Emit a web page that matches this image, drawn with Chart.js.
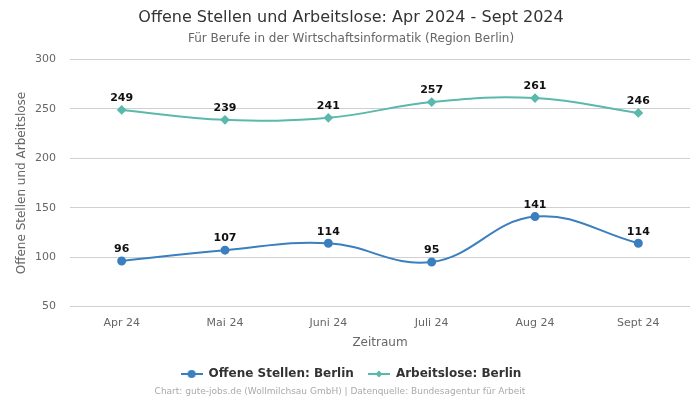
<!DOCTYPE html>
<html><head><meta charset="utf-8">
<script src="https://cdn.jsdelivr.net/npm/chart.js@4"></script>
<style>html,body{margin:0;padding:0;background:#fff;}#wrap{width:700px;height:400px;}</style>
</head><body><div id="wrap"><canvas id="c" width="700" height="400"></canvas></div>
<script>
const categories = ["Apr 24","Mai 24","Juni 24","Juli 24","Aug 24","Sept 24"];
const offeneStellen = [96,107,114,95,141,114];
const arbeitslose = [249,239,241,257,261,246];
const yTicks = [50,100,150,200,250,300];
const FONT = "'DejaVu Sans', sans-serif";
const blue = "#3b7fbf", teal = "#5bb8ad";

function legendIcon(color, style){
  const c = document.createElement('canvas'); c.width=22; c.height=10;
  const x = c.getContext('2d');
  x.strokeStyle=color; x.lineWidth=2; x.beginPath(); x.moveTo(0,5); x.lineTo(22,5); x.stroke();
  x.fillStyle=color; x.beginPath();
  if(style==='circle'){ x.arc(11,5,4,0,Math.PI*2);} else { x.moveTo(11,1.5);x.lineTo(14.5,5);x.lineTo(11,8.5);x.lineTo(7.5,5);x.closePath(); }
  x.fill(); return c;
}

const labelsPlugin = {
  id:'vlabels',
  afterDatasetsDraw(chart){
    const ctx=chart.ctx; ctx.save();
    ctx.font="bold 11px "+FONT; ctx.fillStyle="#111"; ctx.textAlign="center"; ctx.textBaseline="bottom";
    chart.data.datasets.forEach((ds,i)=>{
      chart.getDatasetMeta(i).data.forEach((pt,j)=>{ ctx.fillText(String(ds.data[j]), pt.x, pt.y-6); });
    });
    ctx.restore();
  }
};
const footerPlugin = {
  id:'footer',
  afterDraw(chart){
    const ctx=chart.ctx; ctx.save();
    ctx.font="9px "+FONT; ctx.fillStyle="#aaa"; ctx.textAlign="center"; ctx.textBaseline="middle";
    ctx.fillText("Chart: gute-jobs.de (Wollmilchsau GmbH) | Datenquelle: Bundesagentur für Arbeit", 340, 392);
    ctx.restore();
  }
};

new Chart(document.getElementById('c'),{
  type:'line',
  data:{labels:categories,datasets:[
    {label:"Offene Stellen: Berlin",data:offeneStellen,borderColor:blue,backgroundColor:blue,pointStyle:'circle',pointRadius:3.5,pointHoverRadius:3.5,borderWidth:2,tension:0.4},
    {label:"Arbeitslose: Berlin",data:arbeitslose,borderColor:teal,backgroundColor:teal,pointStyle:'rectRot',pointRadius:3.5,borderWidth:2,tension:0.4}
  ]},
  options:{
    responsive:false,animation:false,
    layout:{padding:{left:12,right:10,bottom:10}},
    plugins:{
      title:{display:true,text:"Offene Stellen und Arbeitslose: Apr 2024 - Sept 2024",color:"#333",font:{family:FONT,size:16,weight:'normal'},padding:{top:8,bottom:4}},
      subtitle:{display:true,text:"Für Berufe in der Wirtschaftsinformatik (Region Berlin)",color:"#666",font:{family:FONT,size:12},padding:{bottom:14}},
      legend:{position:'bottom',labels:{color:"#333",font:{family:FONT,size:12,weight:'bold'},usePointStyle:true,pointStyleWidth:22,boxHeight:10,padding:14,
        generateLabels(chart){
          return chart.data.datasets.map((ds,i)=>({text:ds.label,pointStyle:legendIcon(ds.borderColor,i===0?'circle':'diamond'),fillStyle:ds.borderColor,strokeStyle:ds.borderColor,lineWidth:0,datasetIndex:i,fontColor:'#333'}));
        }}},
      tooltip:{enabled:false}
    },
    scales:{
      x:{offset:true,grid:{display:false},border:{display:false},ticks:{color:"#666",font:{family:FONT,size:11},padding:2},
        title:{display:true,text:"Zeitraum",color:"#666",font:{family:FONT,size:12},padding:{top:4,bottom:4}}},
      y:{min:50,max:300,afterBuildTicks(a){a.ticks=yTicks.map(v=>({value:v}));},
        afterFit(s){s.width=58;},
        grid:{color:"#d0d0d0",drawTicks:false},border:{display:false},ticks:{color:"#666",font:{family:FONT,size:11},padding:14},
        title:{display:true,text:"Offene Stellen und Arbeitslose",color:"#666",font:{family:FONT,size:12},padding:{top:3,bottom:0}}}
    }
  },
  plugins:[labelsPlugin,footerPlugin]
});
</script></body></html>
